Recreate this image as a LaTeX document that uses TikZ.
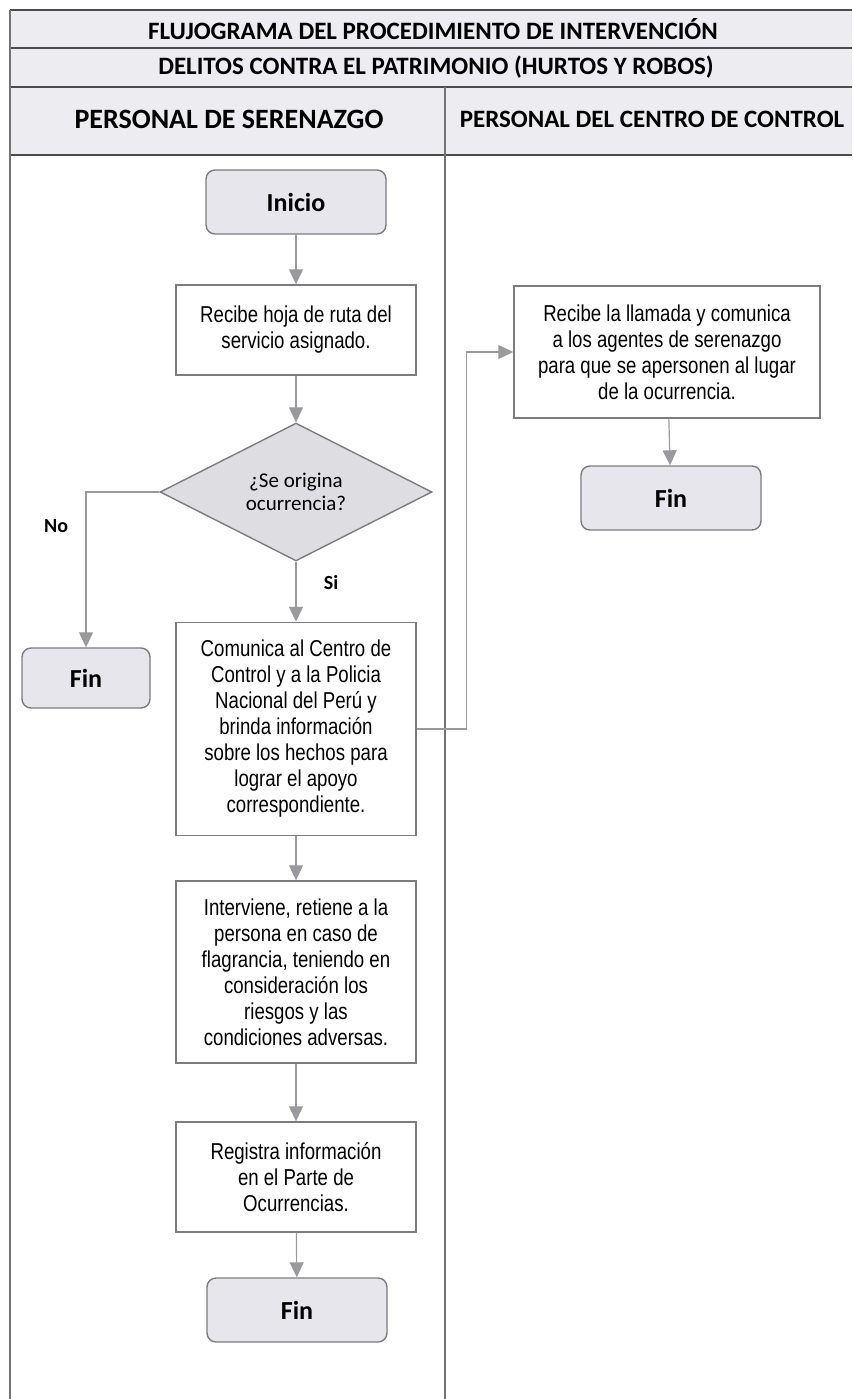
\documentclass[tikz,border=0pt]{standalone}
\usepackage{fontspec}
\setmainfont{Carlito}
\newfontfamily\boxfont[FakeStretch=0.81]{Liberation Sans}
\usepackage{xcolor}
\usetikzlibrary{calc}
\usetikzlibrary{arrows.meta}
\usetikzlibrary{shapes.geometric}

\definecolor{headgray}{HTML}{EDEDF1}
\definecolor{termgray}{HTML}{E6E6EC}
\definecolor{decgray}{HTML}{DEDEE2}
\definecolor{linegray}{HTML}{9A9A9E}
\definecolor{edgegray}{HTML}{7C7C80}

\begin{document}
\begin{tikzpicture}[x=1pt, y=-1pt,
  every text node part/.style={align=center},
  term/.style={draw=edgegray, line width=1.4pt, fill=termgray, rounded corners=9pt, minimum width=180pt, minimum height=64pt, font=\fontsize{26}{30}\selectfont\bfseries},
  proc/.style={draw=edgegray, line width=1.4pt, fill=white, minimum width=240pt, inner sep=0pt, font=\boxfont\fontsize{23}{26}\selectfont},
  dec/.style={diamond, draw=edgegray, line width=1.4pt, fill=decgray, minimum width=272pt, minimum height=137pt, inner sep=0pt, font=\fontsize{21}{23}\selectfont},
  flow/.style={draw=linegray, line width=1.2pt, -{Triangle[width=14pt,length=15pt,fill=linegray]}},
  lbl/.style={font=\fontsize{20}{24}\selectfont\bfseries},
  rule/.style={draw=black!70, line width=1.2pt}]

  \useasboundingbox (0,0) rectangle (852,1399);

  % Header
  \fill[headgray] (10,10) rectangle (852,155);
  \draw[rule] (10,10) -- (852,10);
  \draw[rule] (10,48) -- (852,48);
  \draw[rule] (10,87) -- (852,87);
  \draw[rule] (10,155) -- (852,155);
  \draw[rule, draw=black!55] (10,10) -- (10,1399);
  \draw[rule, draw=black!55] (445,87) -- (445,1399);

  \node[font=\fontsize{25}{30}\selectfont\bfseries] (title) at (433,29) {FLUJOGRAMA DEL PROCEDIMIENTO DE INTERVENCIÓN};
  \node[font=\fontsize{25}{30}\selectfont\bfseries] (subtitle) at (436,67) {DELITOS CONTRA EL PATRIMONIO (HURTOS Y ROBOS)};
  \node[font=\fontsize{28}{32}\selectfont\bfseries] (laneA) at (229,119) {PERSONAL DE SERENAZGO};
  \node[font=\fontsize{25}{30}\selectfont\bfseries] (laneB) at (652,119) {PERSONAL DEL CENTRO DE CONTROL};

  % Process
  \node[term] (inicio) at (296,202) {Inicio};
  \node[proc, minimum height=90pt] (hoja) at (296,330) {Recibe hoja de ruta del\\servicio asignado.};
  \node[dec] (origina) at (296,492) {¿Se origina\\ocurrencia?};
  \node[term, minimum width=128pt, minimum height=60pt] (finno) at (86,678) {Fin};
  \node[proc, minimum height=213pt] (comunica) at (296,729) {Comunica al Centro de\\Control y a la Policia\\Nacional del Perú y\\brinda información\\sobre los hechos para\\lograr el apoyo\\correspondiente.};
  \node[proc, minimum height=182pt] (interviene) at (296,972) {Interviene, retiene a la\\persona en caso de\\flagrancia, teniendo en\\consideración los\\riesgos y las\\condiciones adversas.};
  \node[proc, minimum height=110pt] (registra) at (296,1177) {Registra información\\en el Parte de\\Ocurrencias.};
  \node[term] (finsi) at (297,1310) {Fin};

  \node[proc, minimum width=306pt, minimum height=132pt] (llamada) at (667,352) {Recibe la llamada y comunica\\a los agentes de serenazgo\\para que se apersonen al lugar\\de la ocurrencia.};
  \node[term] (finctl) at (671,498) {Fin};

  \draw[flow] (inicio) -- (hoja);
  \draw[flow] (hoja) -- (origina);
  \draw[flow] (origina.west) -| (finno.north) node [lbl, pos=0.61, left=14pt] {No};
  \draw[flow] (origina.south) -- (comunica.north) node [lbl, pos=0.35, right=24pt] {Si};
  \draw[flow] (comunica.east) -- ++(50,0) |- (llamada.west);
  \draw[flow] (comunica) -- (interviene);
  \draw[flow] (interviene) -- (registra);
  \draw[flow] (registra) -- (finsi);
  \draw[flow] (llamada) -- (finctl);

\end{tikzpicture}
\end{document}
